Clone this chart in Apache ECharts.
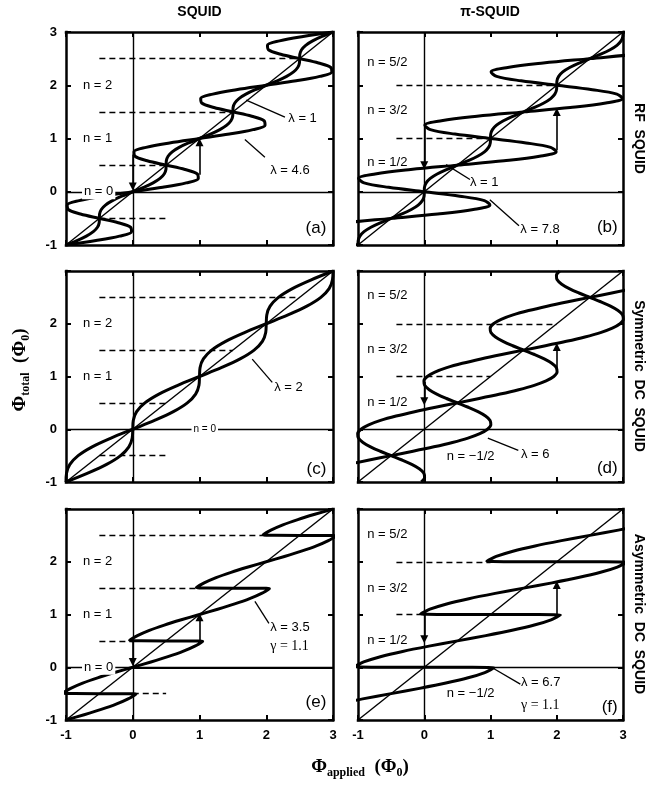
<!DOCTYPE html>
<html>
<head>
<meta charset="utf-8">
<script src="https://cdn.jsdelivr.net/npm/echarts@6/dist/echarts.min.js"></script>
<style>
html, body { margin: 0; padding: 0; background: #fff; }
#main { width: 649px; height: 787px; }
</style>
</head>
<body>
<div id="main"></div>
<script>
var SANS = '"Liberation Sans", Arial, Helvetica, sans-serif';
var SERIF = '"Liberation Serif", "Times New Roman", serif';

// (a) RF SQUID, lambda = 1 and 4.6  [phi_applied, phi_total]
var rfConvL1 = [[-1,-1],[-0.837,-0.917],[-0.695,-0.833],[-0.591,-0.75],[-0.529,-0.667],[-0.503,-0.583],[-0.5,-0.5],[-0.497,-0.417],[-0.471,-0.333],[-0.409,-0.25],[-0.305,-0.167],[-0.163,-0.083],
  [0,0],[0.163,0.083],[0.305,0.167],[0.409,0.25],[0.471,0.333],[0.497,0.417],[0.5,0.5],[0.503,0.583],[0.529,0.667],[0.591,0.75],[0.695,0.833],[0.837,0.917],
  [1,1],[1.163,1.083],[1.305,1.167],[1.409,1.25],[1.471,1.333],[1.497,1.417],[1.5,1.5],[1.503,1.583],[1.529,1.667],[1.591,1.75],[1.695,1.833],[1.837,1.917],
  [2,2],[2.163,2.083],[2.305,2.167],[2.409,2.25],[2.471,2.333],[2.497,2.417],[2.5,2.5],[2.503,2.583],[2.529,2.667],[2.591,2.75],[2.695,2.833],[2.837,2.917],[3,3]];
var rfConvL46 = [[-1,-1],[-0.551,-0.917],[-0.199,-0.833],[-0.018,-0.75],[-0.033,-0.667],[-0.217,-0.583],[-0.5,-0.5],[-0.783,-0.417],[-0.967,-0.333],[-0.982,-0.25],[-0.801,-0.167],[-0.449,-0.083],
  [0,0],[0.449,0.083],[0.801,0.167],[0.982,0.25],[0.967,0.333],[0.783,0.417],[0.5,0.5],[0.217,0.583],[0.033,0.667],[0.018,0.75],[0.199,0.833],[0.551,0.917],
  [1,1],[1.449,1.083],[1.801,1.167],[1.982,1.25],[1.967,1.333],[1.783,1.417],[1.5,1.5],[1.217,1.583],[1.033,1.667],[1.018,1.75],[1.199,1.833],[1.551,1.917],
  [2,2],[2.449,2.083],[2.801,2.167],[2.982,2.25],[2.967,2.333],[2.783,2.417],[2.5,2.5],[2.217,2.583],[2.033,2.667],[2.018,2.75],[2.199,2.833],[2.551,2.917],[3,3]];

// (b) RF pi-SQUID, lambda = 1 and 7.8
var rfPiL1 = [[-1,-1],[-0.997,-0.917],[-0.971,-0.833],[-0.909,-0.75],[-0.805,-0.667],[-0.663,-0.583],[-0.5,-0.5],[-0.337,-0.417],[-0.195,-0.333],[-0.091,-0.25],[-0.029,-0.167],[-0.003,-0.083],
  [0,0],[0.003,0.083],[0.029,0.167],[0.091,0.25],[0.195,0.333],[0.337,0.417],[0.5,0.5],[0.663,0.583],[0.805,0.667],[0.909,0.75],[0.971,0.833],[0.997,0.917],
  [1,1],[1.003,1.083],[1.029,1.167],[1.091,1.25],[1.195,1.333],[1.337,1.417],[1.5,1.5],[1.663,1.583],[1.805,1.667],[1.909,1.75],[1.971,1.833],[1.997,1.917],
  [2,2],[2.003,2.083],[2.029,2.167],[2.091,2.25],[2.195,2.333],[2.337,2.417],[2.5,2.5],[2.663,2.583],[2.805,2.667],[2.909,2.75],[2.971,2.833],[2.997,2.917],[3,3]];
var rfPiL78 = [[-1,-1],[-1.537,-0.917],[-1.908,-0.833],[-1.991,-0.75],[-1.741,-0.667],[-1.204,-0.583],[-0.5,-0.5],[0.204,-0.417],[0.741,-0.333],[0.991,-0.25],[0.908,-0.167],[0.537,-0.083],
  [0,0],[-0.537,0.083],[-0.908,0.167],[-0.991,0.25],[-0.741,0.333],[-0.204,0.417],[0.5,0.5],[1.204,0.583],[1.741,0.667],[1.991,0.75],[1.908,0.833],[1.537,0.917],
  [1,1],[0.463,1.083],[0.092,1.167],[0.009,1.25],[0.259,1.333],[0.796,1.417],[1.5,1.5],[2.204,1.583],[2.741,1.667],[2.991,1.75],[2.908,1.833],[2.537,1.917],
  [2,2],[1.463,2.083],[1.092,2.167],[1.009,2.25],[1.259,2.333],[1.796,2.417],[2.5,2.5],[3.204,2.583],[3.741,2.667],[3.991,2.75],[3.908,2.833],[3.537,2.917],[3,3]];

// (c) symmetric DC SQUID, lambda = 2 (two branches)
var dcSymConvA = [[-1,-1],[-0.992,-0.833],[-0.942,-0.667],[-0.818,-0.5],[-0.608,-0.333],[-0.326,-0.167],[0,0],[0.326,0.167],[0.608,0.333],[0.818,0.5],[0.942,0.667],[0.992,0.833],
  [1,1],[1.008,1.167],[1.058,1.333],[1.182,1.5],[1.392,1.667],[1.674,1.833],[2,2],[2.326,2.167],[2.608,2.333],[2.818,2.5],[2.942,2.667],[2.992,2.833],[3,3]];
var dcSymConvB = [[-1,-1],[-0.674,-0.833],[-0.392,-0.667],[-0.182,-0.5],[-0.058,-0.333],[-0.008,-0.167],[0,0],[0.008,0.167],[0.058,0.333],[0.182,0.5],[0.392,0.667],[0.674,0.833],
  [1,1],[1.326,1.167],[1.608,1.333],[1.818,1.5],[1.942,1.667],[1.992,1.833],[2,2],[2.008,2.167],[2.058,2.333],[2.182,2.5],[2.392,2.667],[2.674,2.833],[3,3]];

// (d) symmetric DC pi-SQUID, lambda = 6 (two branches)
var dcSymPiA = [[-1.955,-1],[-1.839,-0.917],[-1.66,-0.833],[-1.425,-0.75],[-1.145,-0.667],[-0.83,-0.583],[-0.5,-0.5],[-0.17,-0.417],[0.145,-0.333],[0.425,-0.25],[0.66,-0.167],[0.839,-0.083],
  [0.955,0],[1.005,0.083],[0.994,0.167],[0.925,0.25],[0.811,0.333],[0.664,0.417],[0.5,0.5],[0.336,0.583],[0.189,0.667],[0.075,0.75],[0.006,0.833],[-0.005,0.917],
  [0.045,1],[0.161,1.083],[0.34,1.167],[0.575,1.25],[0.855,1.333],[1.17,1.417],[1.5,1.5],[1.83,1.583],[2.145,1.667],[2.425,1.75],[2.66,1.833],[2.839,1.917],
  [2.955,2],[3.005,2.083],[2.994,2.167],[2.925,2.25],[2.811,2.333],[2.664,2.417],[2.5,2.5],[2.336,2.583],[2.189,2.667],[2.075,2.75],[2.006,2.833],[1.995,2.917],[2.045,3]];
var dcSymPiB = [[-0.045,-1],[0.005,-0.917],[-0.006,-0.833],[-0.075,-0.75],[-0.189,-0.667],[-0.336,-0.583],[-0.5,-0.5],[-0.664,-0.417],[-0.811,-0.333],[-0.925,-0.25],[-0.994,-0.167],[-1.005,-0.083],
  [-0.955,0],[-0.839,0.083],[-0.66,0.167],[-0.425,0.25],[-0.145,0.333],[0.17,0.417],[0.5,0.5],[0.83,0.583],[1.145,0.667],[1.425,0.75],[1.66,0.833],[1.839,0.917],
  [1.955,1],[2.005,1.083],[1.994,1.167],[1.925,1.25],[1.811,1.333],[1.664,1.417],[1.5,1.5],[1.336,1.583],[1.189,1.667],[1.075,1.75],[1.006,1.833],[0.995,1.917],
  [1.045,2],[1.161,2.083],[1.34,2.167],[1.575,2.25],[1.855,2.333],[2.17,2.417],[2.5,2.5],[2.83,2.583],[3.145,2.667],[3.425,2.75],[3.66,2.833],[3.839,2.917],[3.955,3]];

// (e) asymmetric DC SQUID, lambda = 3.5, gamma = 1.1
var dcAsymConv = [[-1,-1],[-0.728,-0.9],[-0.473,-0.8],[-0.249,-0.7],[-0.07,-0.6],[0.047,-0.51],
  [-1.047,-0.49],[-0.93,-0.4],[-0.751,-0.3],[-0.527,-0.2],[-0.272,-0.1],[0,0],[0.272,0.1],[0.527,0.2],[0.751,0.3],[0.93,0.4],[1.047,0.49],
  [-0.047,0.51],[0.07,0.6],[0.249,0.7],[0.473,0.8],[0.728,0.9],[1,1],[1.272,1.1],[1.527,1.2],[1.751,1.3],[1.93,1.4],[2.047,1.49],
  [0.953,1.51],[1.07,1.6],[1.249,1.7],[1.473,1.8],[1.728,1.9],[2,2],[2.272,2.1],[2.527,2.2],[2.751,2.3],[2.93,2.4],[3.047,2.49],
  [1.953,2.51],[2.07,2.6],[2.249,2.7],[2.473,2.8],[2.728,2.9],[3,3]];

// (f) asymmetric DC pi-SQUID, lambda = 6.7, gamma = 1.1
var dcAsymPi = [[-2.055,-0.99],[-1.914,-0.9],[-1.662,-0.8],[-1.327,-0.7],[-0.929,-0.6],[-0.5,-0.5],[-0.071,-0.4],[0.327,-0.3],[0.662,-0.2],[0.914,-0.1],[1.055,-0.01],
  [-1.055,0.01],[-0.914,0.1],[-0.662,0.2],[-0.327,0.3],[0.071,0.4],[0.5,0.5],[0.929,0.6],[1.327,0.7],[1.662,0.8],[1.914,0.9],[2.055,0.99],
  [-0.055,1.01],[0.086,1.1],[0.338,1.2],[0.673,1.3],[1.071,1.4],[1.5,1.5],[1.929,1.6],[2.327,1.7],[2.662,1.8],[2.914,1.9],[3.055,1.99],
  [0.945,2.01],[1.086,2.1],[1.338,2.2],[1.673,2.3],[2.071,2.4],[2.5,2.5],[2.929,2.6],[3.327,2.7]];

// which curves go in which panel
var panelCurves = [[rfConvL1, rfConvL46], [rfPiL1, rfPiL78], [dcSymConvA, dcSymConvB], [dcSymPiA, dcSymPiB], [dcAsymConv], [dcAsymPi]];
var panelSmooth = [0.35, 0.35, 0.35, 0.35, 0.25, 0.25];

// thin reference lines in every panel: axes through 0 and the lambda = 0 diagonal
var refLines = [[[0,-1],[0,3]], [[-1,0],[3,0]], [[-1,-1],[3,3]]];
// heavier zero-flux segment in panel (e): [panel, x from, x to]
var zeroBold = [[4,0,3]];

// dashed guides: [panel, y, x from, x to]
var dashes = [[0,2.5,-0.5,2.5],[0,1.5,-0.5,1.5],[0,0.5,-0.5,0.5],[0,-0.5,-0.5,0.5],
  [1,2,-0.42,2],[1,1,-0.42,1],
  [2,2.5,-0.5,2.5],[2,1.5,-0.5,1.5],[2,0.5,-0.5,0.5],[2,-0.5,-0.5,0.5],
  [3,2,-0.42,2],[3,1,-0.42,1],
  [4,2.5,-0.5,2],[4,1.5,-0.5,1],[4,0.5,-0.5,0],[4,-0.5,0,0.5],
  [5,2,-0.42,1],[5,1,-0.42,0]];

// jump arrows: [panel, x, y from, y to]
var arrows = [[0,1,0.32,0.93],[0,0,0.7,0.1],[1,2,0.78,1.5],[1,0,1.2,0.5],[3,2,1.1,1.56],[3,0,0.9,0.53],
  [4,1,0.48,0.95],[4,0,0.5,0.1],[5,2,0.97,1.56],[5,0,1.0,0.53]];

// leader lines from curve to lambda label: [panel, x1, y1, x2, y2]
var leaders = [[0,1.7,1.72,2.28,1.4],[0,1.68,0.98,1.98,0.65],[1,0.33,0.51,0.69,0.23],[1,0.99,-0.15,1.43,-0.64],
  [2,1.79,1.33,2.09,0.89],[3,0.96,-0.17,1.42,-0.4],[4,1.83,1.25,2.04,0.83],[5,1.04,-0.02,1.45,-0.32]];

// text labels in data coordinates: [panel, x, y, text]
var nLabels = [[0,-0.745,2,'n = 2'],[0,-0.745,1,'n = 1'],
  [1,-0.86,2.43,'n = 5/2'],[1,-0.86,1.52,'n = 3/2'],[1,-0.86,0.55,'n = 1/2'],
  [2,-0.745,2,'n = 2'],[2,-0.745,1,'n = 1'],
  [3,-0.86,2.53,'n = 5/2'],[3,-0.86,1.51,'n = 3/2'],[3,-0.86,0.5,'n = 1/2'],[3,0.34,-0.52,'n = \u22121/2'],
  [4,-0.745,2,'n = 2'],[4,-0.745,1,'n = 1'],
  [5,-0.86,2.52,'n = 5/2'],[5,-0.86,1.5,'n = 3/2'],[5,-0.86,0.5,'n = 1/2'],[5,0.34,-0.5,'n = \u22121/2']];
var zeroLabels = [[0,-0.76,0,'n = 0',13],[2,0.88,0,'n = 0',10],[4,-0.76,0,'n = 0',13]];
var lamLabels = [[0,2.33,1.38,'\u03bb = 1'],[0,2.06,0.4,'\u03bb = 4.6'],[1,0.69,0.17,'\u03bb = 1'],[1,1.45,-0.71,'\u03bb = 7.8'],
  [2,2.12,0.8,'\u03bb = 2'],[3,1.46,-0.48,'\u03bb = 6'],[4,2.06,0.75,'\u03bb = 3.5'],[5,1.46,-0.28,'\u03bb = 6.7']];
var gamLabels = [[4,2.06,0.4,'\u03b3 = 1.1'],[5,1.46,-0.72,'\u03b3 = 1.1']];
var panelTags = [[0,2.9,-0.68,'(a)'],[1,2.92,-0.67,'(b)'],[2,2.9,-0.76,'(c)'],[3,2.92,-0.74,'(d)'],[4,2.9,-0.66,'(e)'],[5,2.92,-0.75,'(f)']];

var colTitles = [[199.5,12,'SQUID'],[490,12,'\u03c0-SQUID']];
var rowTitles = [[639,138.5,'RF  SQUID'],[639,376,'Symmetric  DC  SQUID'],[639,614,'Asymmetric  DC  SQUID']];

var gridBoxes = [[66,32,267,213],[358,32,265,213],[66,271,267,211],[358,271,265,211],[66,509,267,211],[358,509,265,211]];

var chart = echarts.init(document.getElementById('main'));
var grids = [], xAxes = [], yAxes = [], series = [];

gridBoxes.forEach(function (b, p) {
  grids.push({ left: b[0], top: b[1], width: b[2], height: b[3], show: false });
  var leftCol = p % 2 === 0, bottomRow = p >= 4;
  ['bottom', 'top'].forEach(function (pos) {
    xAxes.push({
      gridIndex: p, type: 'value', position: pos, min: -1, max: 3, interval: 1,
      axisLine: { onZero: false, lineStyle: { color: '#000', width: 2.5, cap: 'square' } },
      axisTick: { inside: true, length: 5, lineStyle: { color: '#000', width: 2 } },
      axisLabel: { show: pos === 'bottom' && bottomRow, color: '#000', fontWeight: 'bold', fontSize: 13, fontFamily: SANS, margin: 9 },
      splitLine: { show: false }
    });
  });
  ['left', 'right'].forEach(function (pos) {
    yAxes.push({
      gridIndex: p, type: 'value', position: pos, min: -1, max: 3, interval: 1,
      axisLine: { onZero: false, lineStyle: { color: '#000', width: 2.5, cap: 'square' } },
      axisTick: { inside: true, length: 5, lineStyle: { color: '#000', width: 2 } },
      axisLabel: {
        show: pos === 'left' && leftCol, color: '#000', fontWeight: 'bold', fontSize: 13, fontFamily: SANS, margin: 9,
        formatter: function (v) { return (p > 0 && v === 3) ? '' : String(v); }
      },
      splitLine: { show: false }
    });
  });

  var ax = { xAxisIndex: 2 * p, yAxisIndex: 2 * p };
  series.push(Object.assign({
    type: 'lines', coordinateSystem: 'cartesian2d', silent: true, z: 2,
    lineStyle: { color: '#000', width: 1.4, opacity: 1 },
    data: refLines.map(function (c) { return { coords: c }; })
  }, ax));
  series.push(Object.assign({
    type: 'lines', coordinateSystem: 'cartesian2d', silent: true, z: 2,
    lineStyle: { color: '#000', width: 2.2, opacity: 1 },
    data: zeroBold.filter(function (d) { return d[0] === p; }).map(function (d) { return { coords: [[d[1], 0], [d[2], 0]] }; })
  }, ax));
  series.push(Object.assign({
    type: 'lines', coordinateSystem: 'cartesian2d', silent: true, z: 2,
    lineStyle: { color: '#000', width: 1.3, type: [6, 4], opacity: 1 },
    data: dashes.filter(function (d) { return d[0] === p; }).map(function (d) { return { coords: [[d[2], d[1]], [d[3], d[1]]] }; })
  }, ax));
  series.push(Object.assign({
    type: 'lines', coordinateSystem: 'cartesian2d', silent: true, z: 2,
    lineStyle: { color: '#000', width: 1.3, opacity: 1 },
    data: leaders.filter(function (d) { return d[0] === p; }).map(function (d) { return { coords: [[d[1], d[2]], [d[3], d[4]]] }; })
  }, ax));
  series.push(Object.assign({
    type: 'lines', coordinateSystem: 'cartesian2d', silent: true, z: 4,
    symbol: ['none', 'triangle'], symbolSize: 8,
    lineStyle: { color: '#000', width: 1.6, opacity: 1 },
    data: arrows.filter(function (d) { return d[0] === p; }).map(function (d) { return { coords: [[d[1], d[2]], [d[1], d[3]]] }; })
  }, ax));
  panelCurves[p].forEach(function (c) {
    series.push(Object.assign({
      type: 'line', data: c, smooth: panelSmooth[p], symbol: 'none', showSymbol: false, clip: true, z: 3,
      lineStyle: { color: '#000', width: 3, join: 'round' }
    }, ax));
  });
});

chart.setOption({
  animation: false,
  backgroundColor: '#fff',
  grid: grids, xAxis: xAxes, yAxis: yAxes, series: series
});

function txt(x, y, text, st, extra) {
  var el = {
    type: 'text', x: x, y: y, z: 100, silent: true,
    style: Object.assign({ text: text, fill: '#000', fontFamily: SANS, fontSize: 13,
      align: 'left', verticalAlign: 'middle', textAlign: 'left', textVerticalAlign: 'middle' }, st)
  };
  return Object.assign(el, extra || {});
}
function at(p, x, y) { return chart.convertToPixel({ gridIndex: p }, [x, y]); }

var g = [];
nLabels.forEach(function (l) { var q = at(l[0], l[1], l[2]); g.push(txt(q[0], q[1], l[3], {})); });
zeroLabels.forEach(function (l) {
  var q = at(l[0], l[1], l[2]);
  g.push(txt(q[0], q[1], l[3], { fontSize: l[4], backgroundColor: '#fff', padding: [1, 2] }));
});
lamLabels.forEach(function (l) { var q = at(l[0], l[1], l[2]); g.push(txt(q[0], q[1], l[3], { fontSize: 13 })); });
gamLabels.forEach(function (l) { var q = at(l[0], l[1], l[2]); g.push(txt(q[0], q[1], l[3], { fontSize: 14, fontFamily: SERIF })); });
panelTags.forEach(function (l) {
  var q = at(l[0], l[1], l[2]);
  g.push(txt(q[0], q[1], l[3], { fontSize: 17, align: 'right', textAlign: 'right' }));
});
colTitles.forEach(function (l) {
  g.push(txt(l[0], l[1], l[2], { fontSize: 14, fontWeight: 'bold', align: 'center', textAlign: 'center' }));
});
rowTitles.forEach(function (l) {
  g.push(txt(l[0], l[1], l[2], { fontSize: 14, fontWeight: 'bold', align: 'center', textAlign: 'center' }, { rotation: -Math.PI / 2 }));
});
var axRich = {
  p: { fontFamily: SERIF, fontSize: 19, fontWeight: 'bold', lineHeight: 24 },
  s: { fontFamily: SERIF, fontSize: 12, fontWeight: 'bold', lineHeight: 12, verticalAlign: 'bottom' }
};
g.push(txt(20, 370, '{p|\u03a6}{s|total}{p|  (\u03a6}{s|0}{p|)}', { rich: axRich, align: 'center', textAlign: 'center' }, { rotation: Math.PI / 2 }));
g.push(txt(360, 767, '{p|\u03a6}{s|applied}{p|  (\u03a6}{s|0}{p|)}', { rich: axRich, align: 'center', textAlign: 'center' }));

chart.setOption({ graphic: { elements: g } });
</script>
</body>
</html>
